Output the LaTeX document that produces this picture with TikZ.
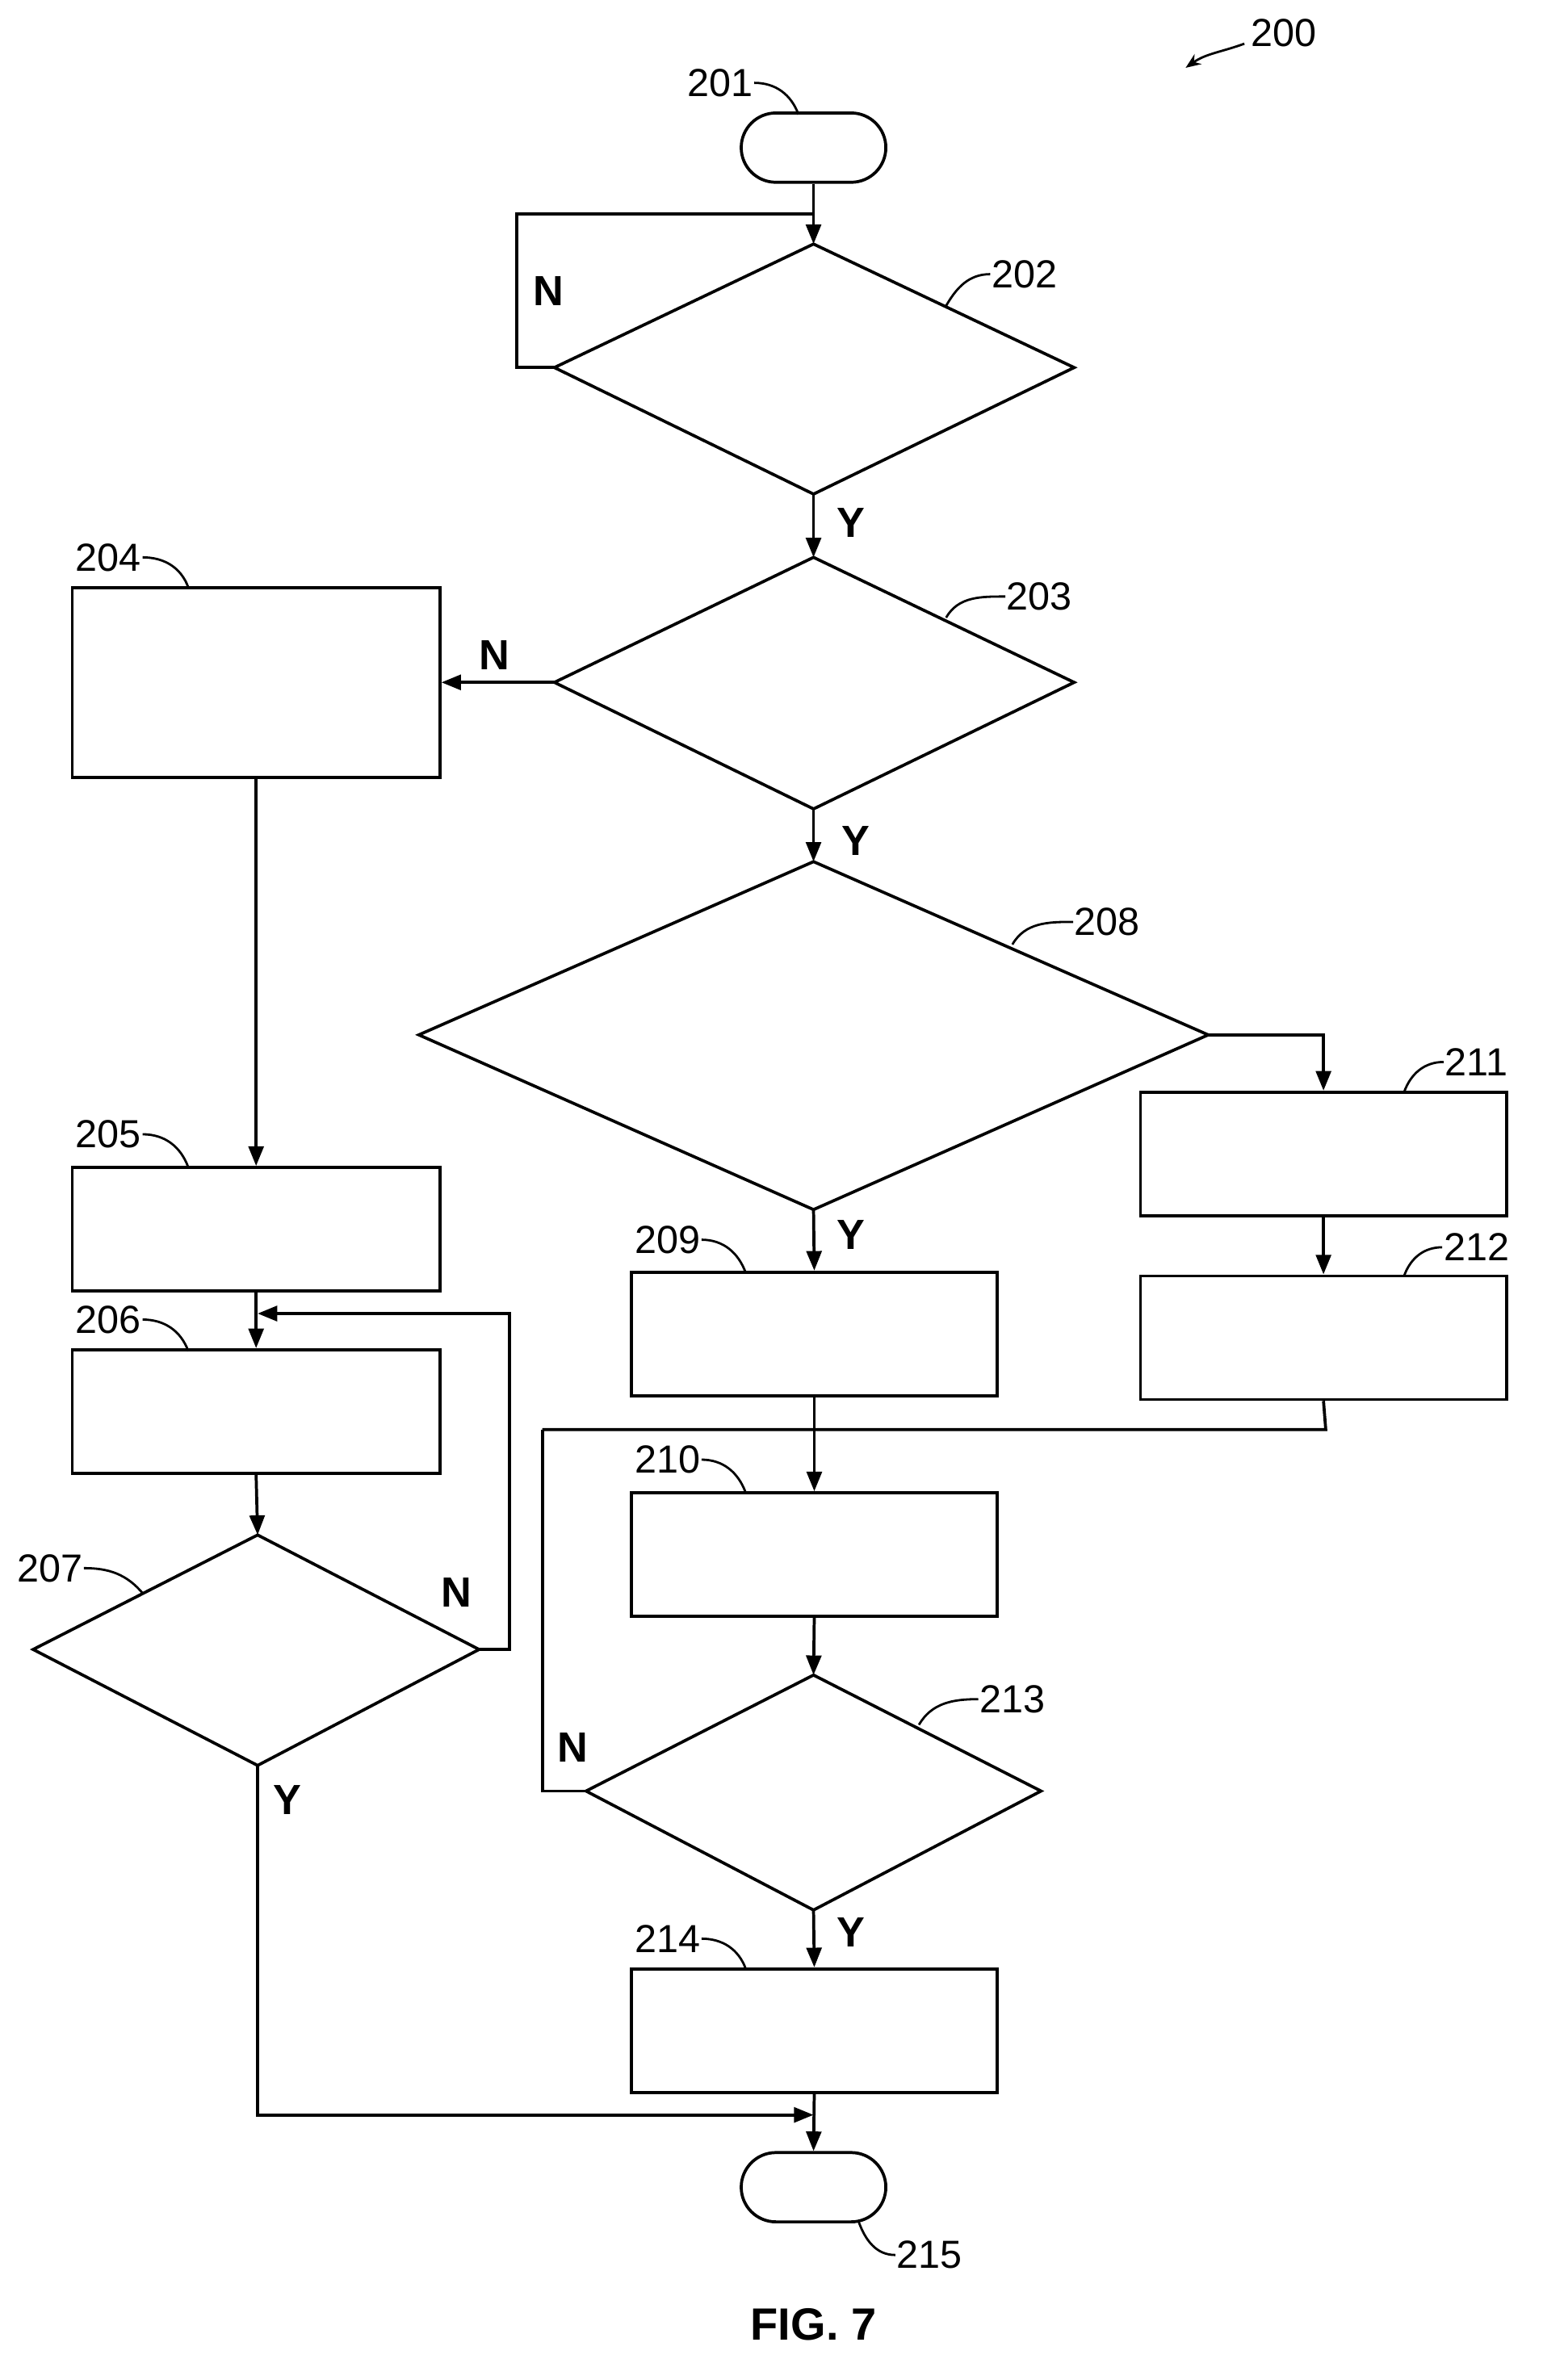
\documentclass[tikz,border=0pt]{standalone}
\usepackage{fontspec}
\setmainfont{Liberation Sans}
\usetikzlibrary{arrows.meta}
\begin{document}
\begin{tikzpicture}[x=1pt,y=-1pt,line width=2pt,
  arr/.style={-{Triangle[length=13pt,width=10pt]}},
  lbl/.style={font=\fontsize{26}{28}\selectfont,inner sep=0pt},
  yn/.style={font=\fontsize{28}{30}\selectfont\bfseries,inner sep=0pt},
  box/.style={draw,minimum width=244pt,minimum height=82pt,inner sep=0pt},
  term/.style={draw,rounded corners=23pt,minimum width=96pt,minimum height=46pt,inner sep=0pt}]
\useasboundingbox (0,0) rectangle (1024,1580);
% terminators
\node[term] (t201) at (540,98) {};
\node[term] (t215) at (540,1452) {};
% boxes
\node[box,minimum height=126pt] (b204) at (170,453) {};
\node[box] (b205) at (170,816) {};
\node[box] (b206) at (170,937) {};
\node[box,minimum width=243pt] (b209) at (540.5,885.5) {};
\node[box,minimum width=243pt] (b210) at (540.5,1032) {};
\node[box,minimum width=243pt] (b211) at (878.5,766) {};
\node[box,minimum width=243pt] (b212) at (878.5,888) {};
\node[box,minimum width=243pt] (b214) at (540.5,1348) {};
% diamonds
\coordinate (d202t) at (540,162); \coordinate (d202b) at (540,328);
\coordinate (d202l) at (368,244); \coordinate (d202r) at (713,244);
\draw (d202t)--(d202r)--(d202b)--(d202l)--cycle;
\coordinate (d203t) at (540,370); \coordinate (d203b) at (540,537);
\coordinate (d203l) at (368,453); \coordinate (d203r) at (713,453);
\draw (d203t)--(d203r)--(d203b)--(d203l)--cycle;
\coordinate (d208t) at (540,572); \coordinate (d208b) at (540,803);
\coordinate (d208l) at (278,687); \coordinate (d208r) at (802,687);
\draw (d208t)--(d208r)--(d208b)--(d208l)--cycle;
\coordinate (d213t) at (540,1112); \coordinate (d213b) at (540,1268);
\coordinate (d213l) at (389,1189); \coordinate (d213r) at (691,1189);
\draw (d213t)--(d213r)--(d213b)--(d213l)--cycle;
\coordinate (d207t) at (171,1019); \coordinate (d207b) at (171,1172);
\coordinate (d207l) at (22,1095); \coordinate (d207r) at (318,1095);
\draw (d207t)--(d207r)--(d207b)--(d207l)--cycle;
% junctions
\coordinate (j1) at (540,142);
\coordinate (j2) at (540,949);
\coordinate (j3) at (171,872);
\coordinate (j4) at (540,1404);
% connectors
\draw[arr] (t201.south)--(d202t);
\draw (d202l)--(343,244)--(343,142)--(j1);
\draw[arr] (d202b)--(d203t);
\draw[arr] (d203l)--(b204.east);
\draw[arr] (d203b)--(d208t);
\draw[arr] (d208b)--(b209.north);
\draw[arr] (d208r)-|(b211.north);
\draw[arr] (b211.south)--(b212.south|-b212.north);
\draw[arr] (b209.south)--(b210.north);
\draw (b212.south)--(880,949)--(360,949);
\draw (d213l)--(360,1189)--(360,949);
\draw[arr] (b210.south)--(d213t);
\draw[arr] (d213b)--(b214.north);
\draw[arr] (b214.south)--(t215.north);
\draw[arr] (b204.south)--(b205.north);
\draw[arr] (b205.south)--(b206.north);
\draw[arr] (b206.south)--(d207t);
\draw[arr] (d207r)--(338,1095)--(338,872)--(j3);
\draw[arr] (d207b)--(171,1404)--(j4);
% Y/N
\node[yn] (n1) at (364,193) {N};
\node[yn] (y1) at (565,347) {Y};
\node[yn] (n2) at (328,435) {N};
\node[yn] (y2) at (568,558) {Y};
\node[yn] (y3) at (565,820) {Y};
\node[yn] (n3) at (380,1160) {N};
\node[yn] (y4) at (565,1283) {Y};
\node[yn] (n4) at (303,1057) {N};
\node[yn] (y5) at (191,1195) {Y};
% reference labels
\node[lbl] (l200) at (852,22) {200};
\coordinate (a200) at (787,45);
\draw[-{Stealth[length=10pt,width=8pt]},line width=1.5pt] (826,29) to[out=200,in=35] (a200);
\node[lbl] (l201) at (478,55) {201};
\draw[line width=1.5pt] (l201.east) to[out=0,in=110] (530,76);
\node[lbl] (l202) at (680,182) {202};
\draw[line width=1.5pt] (l202.west) to[out=180,in=60] (628,203);
\node[lbl] (l203) at (690,396) {203};
\draw[line width=1.5pt] (l203.west) to[out=180,in=60] (628,410);
\node[lbl] (l204) at (72,370) {204};
\draw[line width=1.5pt] (l204.east) to[out=0,in=110] (125,390);
\node[lbl] (l208) at (735,612) {208};
\draw[line width=1.5pt] (l208.west) to[out=180,in=60] (672,627);
\node[lbl] (l211) at (980,705) {211};
\draw[line width=1.5pt] (l211.west) to[out=180,in=70] (932,725);
\node[lbl] (l212) at (980,828) {212};
\draw[line width=1.5pt] (l212.west) to[out=180,in=70] (932,847);
\node[lbl] (l205) at (72,753) {205};
\draw[line width=1.5pt] (l205.east) to[out=0,in=110] (125,775);
\node[lbl] (l206) at (72,876) {206};
\draw[line width=1.5pt] (l206.east) to[out=0,in=110] (125,897);
\node[lbl] (l209) at (443,823) {209};
\draw[line width=1.5pt] (l209.east) to[out=0,in=110] (495,845);
\node[lbl] (l210) at (443,969) {210};
\draw[line width=1.5pt] (l210.east) to[out=0,in=110] (495,991);
\node[lbl] (l207) at (33,1041) {207};
\draw[line width=1.5pt] (l207.east) to[out=0,in=130] (95,1058);
\node[lbl] (l213) at (672,1128) {213};
\draw[line width=1.5pt] (l213.west) to[out=180,in=60] (610,1145);
\node[lbl] (l214) at (443,1287) {214};
\draw[line width=1.5pt] (l214.east) to[out=0,in=110] (495,1307);
\node[lbl] (l215) at (617,1497) {215};
\draw[line width=1.5pt] (l215.west) to[out=180,in=-70] (570,1475);
\node[font=\fontsize{30}{32}\selectfont\bfseries] (fig) at (540,1543) {FIG. 7};
\end{tikzpicture}
\end{document}
